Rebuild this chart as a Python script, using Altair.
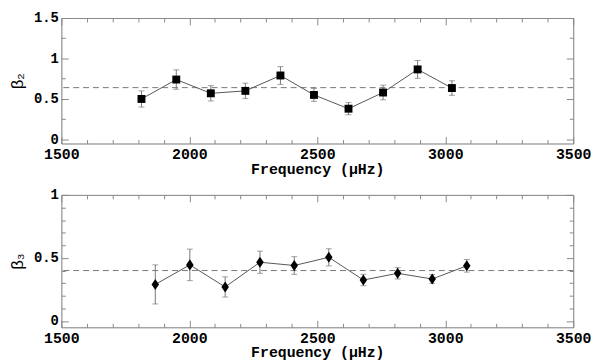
import altair as alt
import pandas as pd

# ---- data ----
top_freq = [1813, 1949, 2084, 2219, 2356, 2487, 2622, 2757, 2892, 3026]
top_val = [0.50, 0.74, 0.57, 0.60, 0.79, 0.55, 0.38, 0.58, 0.865, 0.635]
top_err = [0.10, 0.12, 0.095, 0.095, 0.11, 0.08, 0.075, 0.09, 0.11, 0.09]
top_mean = 0.64

bot_freq = [1867, 2002, 2140, 2276, 2410, 2545, 2680, 2814, 2949, 3084]
bot_val = [0.29, 0.445, 0.27, 0.466, 0.44, 0.505, 0.325, 0.378, 0.333, 0.4375]
bot_err = [0.155, 0.125, 0.08, 0.088, 0.07, 0.068, 0.045, 0.045, 0.035, 0.05]
bot_mean = 0.40

x_major = [1500, 2000, 2500, 3000, 3500]
x_all = list(range(1500, 3501, 100))
top_major = [0, 0.5, 1, 1.5]
top_all = [0, 0.25, 0.5, 0.75, 1, 1.25, 1.5]
bot_major = [0, 0.5, 1]
bot_all = [round(i * 0.1, 1) for i in range(11)]

W = 518
FONT = "Liberation Mono"
AX = "#888888"
XMAJ = "datum.value % 500 == 0"
YMAJ = "abs(datum.value*2 - round(datum.value*2)) < 0.001"


def panel(freq, val, err, mean, ydom, ymajor, yall, ytitle, shape, msize, H):
    df = pd.DataFrame({"f": freq, "v": val,
                       "lo": [a - b for a, b in zip(val, err)],
                       "hi": [a + b for a, b in zip(val, err)]})
    xs = alt.Scale(domain=[1500, 3500], nice=False, zero=False)
    ys = alt.Scale(domain=ydom, nice=False, zero=False)

    tick_x = {"condition": {"test": XMAJ, "value": 7}, "value": 4}
    tick_y = {"condition": {"test": YMAJ, "value": 7}, "value": 4}

    ax_bottom = alt.Axis(values=x_major, orient="bottom", ticks=False, domainColor=AX,
                         labelFont=FONT, labelFontSize=15, labelFontWeight="bold",
                         labelColor="black", labelPadding=3, labelFlush=False,
                         title="Frequency (μHz)", titleFont=FONT, titleFontSize=15,
                         titleFontWeight="bold", titleColor="black", titlePadding=0,
                         grid=False, format="d")
    ax_bot_in = alt.Axis(values=x_all, orient="top", offset=-H, labels=False, title=None,
                         domain=False, tickColor=AX, tickSize=tick_x, grid=False,
                         minExtent=0, maxExtent=0)
    ax_top_in = alt.Axis(values=x_all, orient="bottom", offset=-H, labels=False, title=None,
                         domainColor=AX, tickColor=AX, tickSize=tick_x, grid=False,
                         minExtent=0, maxExtent=0)

    ax_left = alt.Axis(values=ymajor, orient="left", ticks=False, domainColor=AX,
                       labelFont=FONT, labelFontSize=14, labelFontWeight="bold",
                       labelColor="black", labelPadding=3, labelFlush=False,
                       format=".1~f", minExtent=0,
                       title=ytitle, titleFont="Liberation Sans", titleFontSize=17,
                       titleFontWeight="normal", titleColor="black", titlePadding=7,
                       grid=False)
    ax_left_in = alt.Axis(values=yall, orient="right", offset=-W, labels=False, title=None,
                          domain=False, tickColor=AX, tickSize=tick_y, grid=False,
                          minExtent=0, maxExtent=0)
    ax_right_in = alt.Axis(values=yall, orient="left", offset=-W, labels=False, title=None,
                           domainColor=AX, tickColor=AX, tickSize=tick_y, grid=False,
                           minExtent=0, maxExtent=0)

    base = alt.Chart(df)

    mean_rule = alt.Chart(pd.DataFrame({"m": [mean]})).mark_rule(
        color="#777777", strokeDash=[6, 4], strokeWidth=1
    ).encode(y=alt.Y("m:Q", scale=ys, axis=None))

    line = base.mark_line(color="#555555", strokeWidth=1).encode(
        x=alt.X("f:Q", scale=xs, axis=ax_bottom),
        y=alt.Y("v:Q", scale=ys, axis=ax_left))

    bars = base.mark_rule(color="#777777", strokeWidth=1).encode(
        x=alt.X("f:Q", scale=xs, axis=ax_bot_in),
        y=alt.Y("lo:Q", scale=ys, axis=ax_left_in), y2="hi:Q")

    caps = base.transform_fold(["lo", "hi"], as_=["k", "e"]).mark_tick(
        color="#777777", orient="horizontal", size=6, thickness=1
    ).encode(
        x=alt.X("f:Q", scale=xs, axis=ax_top_in),
        y=alt.Y("e:Q", scale=ys, axis=ax_right_in))

    pts = base.mark_point(shape=shape, filled=True, color="black", size=msize,
                          opacity=1).encode(
        x=alt.X("f:Q", scale=xs, axis=None),
        y=alt.Y("v:Q", scale=ys, axis=None))

    return alt.layer(mean_rule, line, bars, caps, pts).resolve_axis(
        x="independent", y="independent").properties(width=W, height=H)


top = panel(top_freq, top_val, top_err, top_mean, [-0.05, 1.5], top_major, top_all,
            "β₂", "square", 64, 127)
bot = panel(bot_freq, bot_val, bot_err, bot_mean, [-0.05, 1.0], bot_major, bot_all,
            "β₃", "M0,-1.25L0.85,0L0,1.25L-0.85,0Z", 80, 134)

chart = alt.vconcat(top, bot, spacing=52, bounds="flush", padding=0).configure_view(
    stroke=None).configure(background="white")

chart.save("out.html", embed_options={"renderer": "svg", "actions": False})
